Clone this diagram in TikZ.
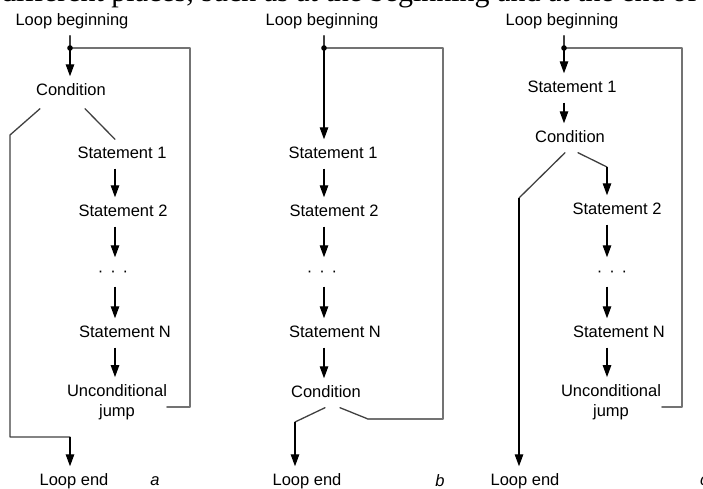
\documentclass[tikz,border=0pt]{standalone}
\usepackage{fontspec}
\setmainfont{Liberation Sans}
\newfontfamily\bodyserif{Liberation Serif}
\usetikzlibrary{arrows.meta,calc}

\begin{document}
\begin{tikzpicture}[x=1pt,y=-1pt,
  lbl/.style={font=\fontsize{16.5}{20}\selectfont, text=black,
    text height=12pt, text depth=3pt, inner xsep=2pt, inner ysep=7pt},
  lbltwo/.style={font=\fontsize{16.5}{20}\selectfont, text=black,
    align=center, inner xsep=2pt, inner ysep=7pt},
  tag/.style={font=\fontsize{16.5}{20}\selectfont\itshape, text=black, inner sep=0pt},
  arr/.style={draw=black, line width=1.2pt, -{Triangle[length=12pt,width=8.5pt]}},
  flow/.style={draw=black!75, line width=1.3pt, line cap=round, line join=round},
  back/.style={draw=black!55, line width=1.6pt, line cap=round, line join=round}
]
\useasboundingbox (0,0) rectangle (703,488);

% running text of the page above the figure, cut by the top edge
\begin{scope}
  \clip (0,0) rectangle (703,12);
  \node[anchor=base west, inner sep=0pt, font=\bodyserif\fontsize{30}{36}\selectfont]
    (pagetext) at (1,1.5) {different places, such as at the beginning and at the end of the};
\end{scope}

% ---------------- (a) pre-test loop with unconditional jump ----------------
\coordinate (dotA) at (70,48);
\coordinate (colA) at (115,0);
\node[lbl] (la)  at (72,21)  {Loop beginning};
\node[lbl] (ca)  at (71,91)  {Condition};
\node[lbl] (s1a) at (122,154) {Statement 1};
\node[lbl] (s2a) at (123,212) {Statement 2};
\node[lbl] (dda) at (113,272) {·\hspace{7pt}·\hspace{7pt}·};
\node[lbl] (sna) at (125,333) {Statement N};
\node[lbltwo] (uja) at (117,402) {Unconditional\\jump};
\node[lbl] (lea) at (74,481) {Loop end};
\node[tag] (taga) at (155,481) {a};

\coordinate (aL1) at (10,135);
\coordinate (aL2) at (10,437);
\coordinate (aR1) at (167,407);
\coordinate (aR2) at (190,407);
\coordinate (aR3) at (190,48);

\draw[flow] (la.south -| dotA) -- (dotA);
\draw[arr] (dotA) -- (ca.north -| dotA);
\draw[flow] ([shift={(-31,3)}]ca.south) -- (aL1) -- (aL2) -- (aL2 -| dotA);
\draw[arr] (aL2 -| dotA) -- (lea.north -| dotA);
\draw[flow] ([shift={(14,3)}]ca.south) -- (s1a.north -| colA);
\draw[arr] (s1a.south -| colA) -- (s2a.north -| colA);
\draw[arr] (s2a.south -| colA) -- (dda.north -| colA);
\draw[arr] (dda.south -| colA) -- (sna.north -| colA);
\draw[arr] (sna.south -| colA) -- (uja.north -| colA);
\draw[back] (aR1) -- (aR2) -- (aR3) -- (dotA);
\fill (dotA) circle (2.8pt);

% ---------------- (b) post-test loop ----------------
\coordinate (dotB) at (324,48);
\node[lbl] (lb)  at (322,21)  {Loop beginning};
\node[lbl] (s1b) at (333,154) {Statement 1};
\node[lbl] (s2b) at (334,212) {Statement 2};
\node[lbl] (ddb) at (322,272) {·\hspace{7pt}·\hspace{7pt}·};
\node[lbl] (snb) at (335,333) {Statement N};
\node[lbl] (cb)  at (326,393) {Condition};
\node[lbl] (leb) at (307,481) {Loop end};
\node[tag] (tagb) at (440,481) {b};

\coordinate (bL1) at (295,422);
\coordinate (bR1) at (368,419);
\coordinate (bR2) at (443,419);
\coordinate (bR3) at (443,48);

\draw[flow] (lb.south -| dotB) -- (dotB);
\draw[arr] (dotB) -- (s1b.north -| dotB);
\draw[arr] (s1b.south -| dotB) -- (s2b.north -| dotB);
\draw[arr] (s2b.south -| dotB) -- (ddb.north -| dotB);
\draw[arr] (ddb.south -| dotB) -- (snb.north -| dotB);
\draw[arr] (snb.south -| dotB) -- (cb.north -| dotB);
\draw[flow] ([xshift=-1pt]cb.south) -- (bL1);
\draw[arr] (bL1) -- (leb.north -| bL1);
\draw[flow] ([xshift=14pt]cb.south) -- (bR1);
\draw[back] (bR1) -- (bR2) -- (bR3) -- (dotB);
\fill (dotB) circle (2.8pt);

% ---------------- (c) mid-test loop ----------------
\coordinate (dotC) at (564,48);
\coordinate (colC) at (607,0);
\node[lbl] (lc)  at (562,21)  {Loop beginning};
\node[lbl] (s1c) at (572,88)  {Statement 1};
\node[lbl] (cc)  at (570,138) {Condition};
\node[lbl] (s2c) at (617,210) {Statement 2};
\node[lbl] (ddc) at (612,272) {·\hspace{7pt}·\hspace{7pt}·};
\node[lbl] (snc) at (619,333) {Statement N};
\node[lbltwo] (ujc) at (611,402) {Unconditional\\jump};
\node[lbl] (lec) at (525,481) {Loop end};
\node[tag, anchor=west] (tagc) at (700,481) {c};

\coordinate (cL1) at (519,198);
\coordinate (cR1) at (607,167);
\coordinate (cB1) at (662,407);
\coordinate (cB2) at (682,407);
\coordinate (cB3) at (682,48);

\draw[flow] (lc.south -| dotC) -- (dotC);
\draw[arr] (dotC) -- (s1c.north -| dotC);
\draw[arr] (s1c.south -| dotC) -- (cc.north -| dotC);
\draw[flow] ([xshift=-5pt]cc.south) -- (cL1);
\draw[arr] (cL1) -- (lec.north -| cL1);
\draw[flow] ([xshift=8pt]cc.south) -- (cR1);
\draw[arr] (cR1) -- (s2c.north -| colC);
\draw[arr] (s2c.south -| colC) -- (ddc.north -| colC);
\draw[arr] (ddc.south -| colC) -- (snc.north -| colC);
\draw[arr] (snc.south -| colC) -- (ujc.north -| colC);
\draw[back] (cB1) -- (cB2) -- (cB3) -- (dotC);
\fill (dotC) circle (2.8pt);

\end{tikzpicture}
\end{document}
